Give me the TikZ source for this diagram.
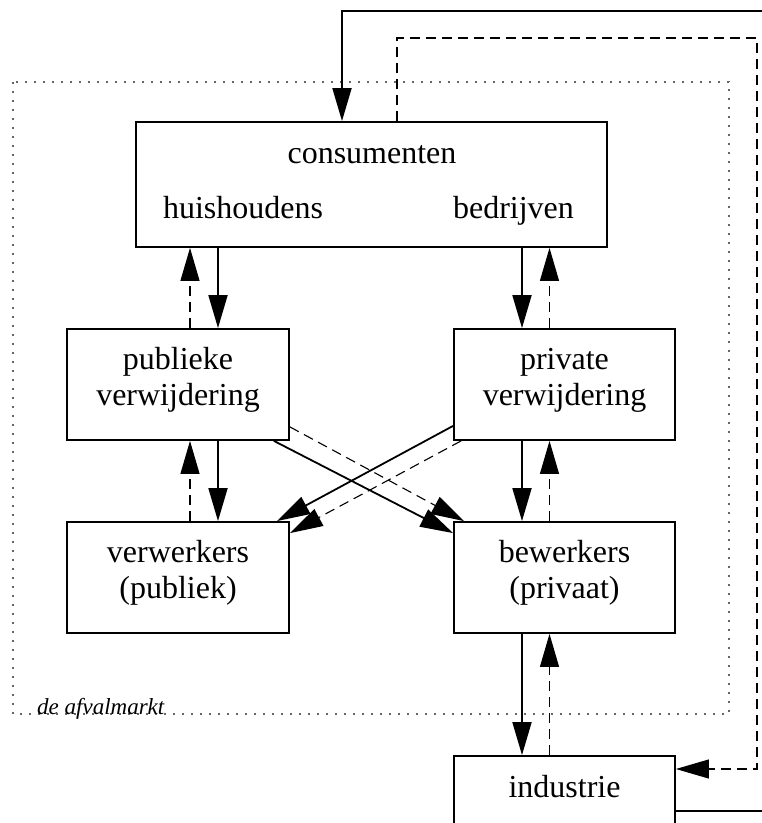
\documentclass[tikz,border=0pt]{standalone}
\usepackage{fontspec}
\setmainfont{Liberation Serif}
\usetikzlibrary{arrows.meta,calc}
\begin{document}
\begin{tikzpicture}[x=1pt,y=-1pt,
  box/.style={draw, line width=1.8pt, inner sep=0pt, align=center,
    font=\fontsize{32}{36}\selectfont},
  twoline/.style={text height=58pt, text depth=17pt},
  oneline/.style={text height=22pt, text depth=22pt},
  txt/.style={inner sep=0pt, anchor=base, font=\fontsize{32}{36}\selectfont},
  tip/.style={-{Triangle[length=33pt,width=19pt]}},
  flow/.style={tip, line width=1.8pt},
  back/.style={tip, line width=1.1pt, dash pattern=on 10pt off 6pt},
  market/.style={draw=black!60, line width=1.6pt, dash pattern=on 1.6pt off 7.4pt}
]
\useasboundingbox (0,0) rectangle (762,823);

% the market boundary
\draw[market] (13,82) rectangle (729,714);
\node[inner sep=0pt, anchor=base west, font=\fontsize{23}{26}\selectfont\itshape]
  (markt) at (37,714) {de afvalmarkt};

% boxes
\node[box, minimum width=471pt, minimum height=125pt] (cons) at (371.5,184.5) {};
\node[txt] (consT) at (372,163) {consumenten};
\node[txt] (huis) at (243,218) {huishoudens};
\node[txt] (bedr) at (513.5,218) {bedrijven};

\node[box, twoline, minimum width=222pt, minimum height=111pt] (pub)  at (178,384.5) {publieke\\verwijdering};
\node[box, twoline, minimum width=221pt, minimum height=111pt] (priv) at (564.5,384.5) {private\\verwijdering};
\node[box, twoline, minimum width=222pt, minimum height=111pt] (verw) at (178,577.5) {verwerkers\\(publiek)};
\node[box, twoline, minimum width=221pt, minimum height=111pt] (bew)  at (564.5,577.5) {bewerkers\\(privaat)};
\node[box, oneline, minimum width=221pt, minimum height=82pt] (ind) at (564.5,797) {industrie};

% columns of the vertical connectors
\coordinate (lx) at (218,0);
\coordinate (lb) at (190,0);
\coordinate (rx) at (522,0);
\coordinate (rb) at (549.5,0);

% downward flows and the dashed returns
\draw[flow] (cons.south -| lx) -- (pub.north -| lx);
\draw[back] (pub.north -| lb) -- (cons.south -| lb);
\draw[flow] (cons.south -| rx) -- (priv.north -| rx);
\draw[back] (priv.north -| rb) -- (cons.south -| rb);

\draw[flow] (pub.south -| lx) -- (verw.north -| lx);
\draw[back] (verw.north -| lb) -- (pub.south -| lb);
\draw[flow] (priv.south -| rx) -- (bew.north -| rx);
\draw[back] (bew.north -| rb) -- (priv.south -| rb);

\draw[flow] (bew.south -| rx) -- (ind.north -| rx);
\draw[back] (ind.north -| rb) -- (bew.south -| rb);

% crossing flows
\draw[flow] ($(pub.south east)+(-16,0)$) -- ($(bew.north west)+(0,12)$);
\draw[back] ($(pub.south east)+(0,-14)$) -- ($(bew.north west)+(11,0)$);
\draw[flow] ($(priv.south west)+(0,-15)$) -- ($(verw.north east)+(-13,0)$);
\draw[back] ($(priv.south west)+(8,0)$) -- ($(verw.north east)+(0,12)$);

% outer loops between industrie and consumenten
\coordinate (sOut) at (764,811);
\coordinate (sTop) at (342,11);
\draw[flow] (ind.east |- sOut) -- (sOut) -- (sOut |- sTop) -- (sTop) -- (cons.north -| sTop);
\coordinate (dTop) at (397,38);
\coordinate (dOut) at (757,769);
\draw[back] (cons.north -| dTop) -- (dTop) -- (dTop -| dOut) -- (dOut) -- (ind.east |- dOut);
\end{tikzpicture}
\end{document}
